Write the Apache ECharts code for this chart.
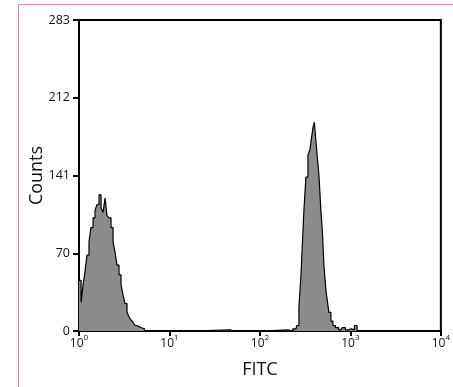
<!DOCTYPE html>
<html>
<head>
<meta charset="utf-8">
<script src="https://cdn.jsdelivr.net/npm/echarts@6/dist/echarts.min.js"></script>
<style>
html,body{margin:0;padding:0;background:#fff;}
#chart{width:453px;height:387px;}
</style>
</head>
<body>
<div id="chart"></div>
<script>
// FITC channel values (log scale) and counts
const fitc = [1.0, 1.03, 1.08, 1.14, 1.19, 1.26, 1.32, 1.39, 1.47, 1.54, 1.62, 1.71, 1.80, 1.89, 1.99, 2.09, 2.20, 2.32, 2.44, 2.56, 2.70, 2.84, 2.99, 3.14, 3.31, 3.48, 3.66, 3.85, 4.05, 4.26, 4.49, 4.72, 5.10, 5.50, 6.09,
  47, 50, 204, 214, 250, 263, 277, 291, 299, 314, 331, 348, 366, 376, 395, 405, 416, 438, 460, 484, 497, 523, 550, 564, 593, 625, 657, 709, 785, 847, 914, 986, 1066, 1150, 1220];
const counts = [46, 46, 26, 42, 54, 69, 81, 94, 103, 110, 115, 124, 112, 108, 121, 105, 103, 94, 81, 72, 60, 51, 42, 33, 25, 17, 13, 10, 8, 5, 4, 3, 2, 0, 0,
  1, 0, 1, 0, 2, 5, 22, 50, 80, 110, 140, 160, 165, 175, 185, 190, 178, 162, 142, 110, 90, 60, 37, 27, 17, 9, 5, 3, 1, 3, 1, 2, 1, 5, 0];
const yTickLabels = ['0', '70', '141', '212', '283'];
const xTickExponents = ['0', '1', '2', '3', '4'];

const chart = echarts.init(document.getElementById('chart'));
const font = '"Open Sans", "Noto Sans", sans-serif';
chart.setOption({
  animation: false,
  grid: { left: 79, top: 20, right: 12, bottom: 56, show: true, borderColor: '#000', borderWidth: 2, backgroundColor: 'transparent' },
  graphic: [
    { type: 'line', shape: { x1: 18.5, y1: 4.5, x2: 453, y2: 4.5 }, style: { stroke: '#c98bc0', lineWidth: 1 } },
    { type: 'line', shape: { x1: 18.5, y1: 4.5, x2: 18.5, y2: 387 }, style: { stroke: '#c98bc0', lineWidth: 1 } }
  ],
  xAxis: {
    type: 'log', logBase: 10, min: 1, max: 10000,
    name: 'FITC', nameLocation: 'middle', nameGap: 30, nameMoveOverlap: false,
    nameTextStyle: { fontFamily: font, fontSize: 18, color: '#111' },
    axisLine: { lineStyle: { color: '#000', width: 2 } },
    axisTick: { show: true, length: 5, lineStyle: { color: '#000', width: 2 } },
    minorTick: { show: false },
    splitLine: { show: false },
    axisLabel: {
      margin: 3,
      formatter: function (v) {
        const e = Math.round(Math.log10(v));
        return '{b|10}{s|' + xTickExponents[e] + '}';
      },
      rich: {
        b: { fontFamily: font, fontSize: 12, color: '#111', padding: [4, 0, 0, 0] },
        s: { fontFamily: font, fontSize: 8, color: '#111', verticalAlign: 'top', padding: [0, 0, 6, 0] }
      }
    }
  },
  yAxis: {
    type: 'value', min: 0, max: 283, interval: 70.75,
    name: 'Counts', nameLocation: 'middle', nameGap: 33, nameRotate: 90, nameMoveOverlap: false,
    nameTextStyle: { fontFamily: font, fontSize: 18, color: '#111' },
    axisLine: { show: true, lineStyle: { color: '#000', width: 2 } },
    axisTick: { show: true, length: 6, lineStyle: { color: '#000', width: 2 } },
    splitLine: { show: false },
    axisLabel: {
      margin: 9, fontFamily: font, fontSize: 12.5, color: '#111',
      formatter: function (v) { return yTickLabels[Math.round(v / 70.75)]; }
    }
  },
  series: [{
    type: 'line', step: 'middle', symbol: 'none',
    data: fitc.map((f, i) => [f, counts[i]]),
    lineStyle: { color: '#000', width: 1.2 },
    areaStyle: { color: '#8c8c8e', opacity: 1 }
  }]
});
</script>
</body>
</html>
